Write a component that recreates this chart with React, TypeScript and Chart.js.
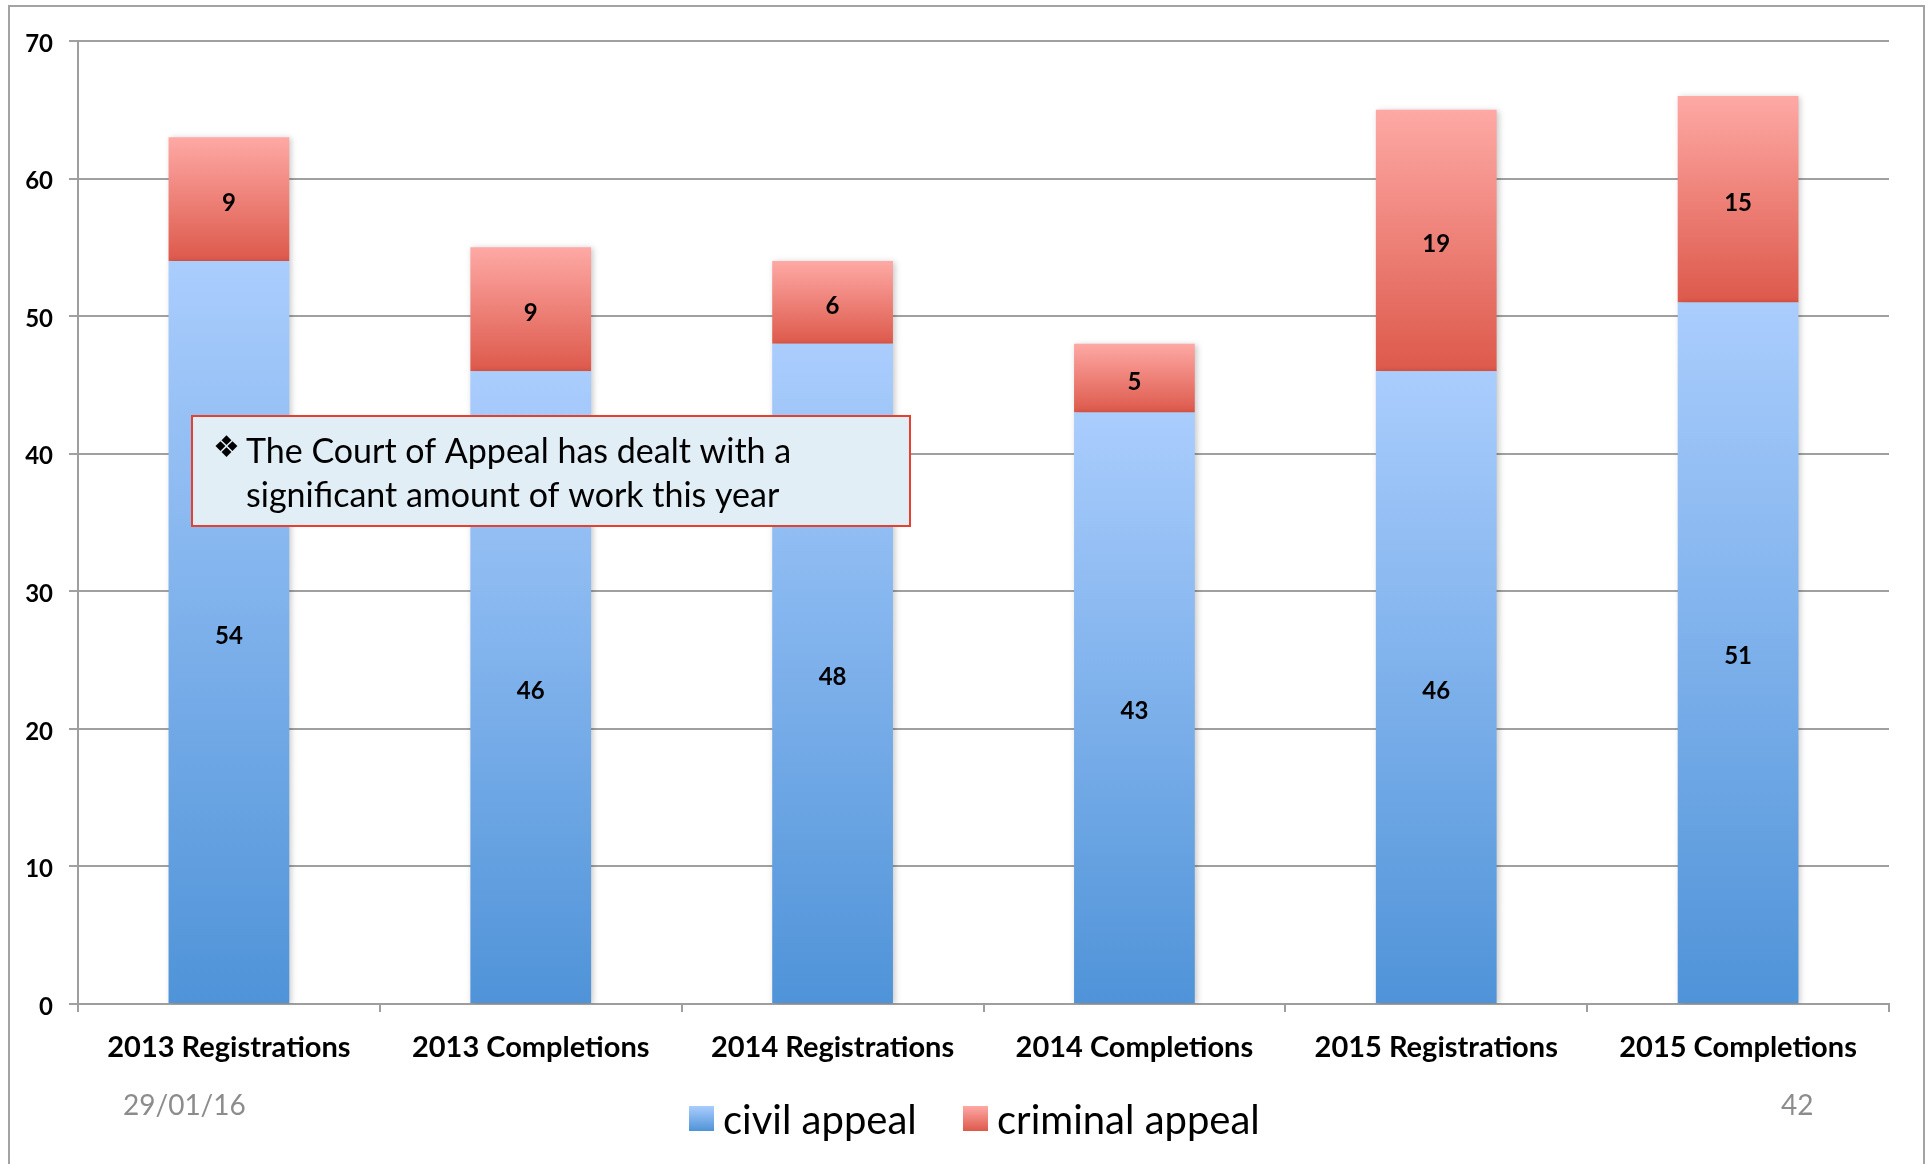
import React, { useEffect, useRef } from "react";
import { Chart, registerables } from "chart.js";

Chart.register(...registerables);

const categories = [
  "2013 Registrations",
  "2013 Completions",
  "2014 Registrations",
  "2014 Completions",
  "2015 Registrations",
  "2015 Completions",
];
const civilAppeal = [54, 46, 48, 43, 46, 51];
const criminalAppeal = [9, 9, 6, 5, 19, 15];
const seriesNames = ["civil appeal", "criminal appeal"];
const yTicksMax = 70;
const yTicksStep = 10;
const noteLines = ["The Court of Appeal has dealt with a", "significant amount of work this year"];
const footerDate = "29/01/16";
const footerPage = "42";

const FONT = "Lato, 'Open Sans', 'DejaVu Sans', sans-serif";
const BLUE_TOP = "#aacdfd";
const BLUE_BOT = "#4f93d8";
const RED_TOP = "#fea9a5";
const RED_BOT = "#dd594b";

function grad(ctx: CanvasRenderingContext2D, y0: number, y1: number, top: string, bot: string) {
  const g = ctx.createLinearGradient(0, y0, 0, y1);
  g.addColorStop(0, top);
  g.addColorStop(1, bot);
  return g;
}

function barColor(dsIndex: number, top: string, bot: string) {
  return (c: any) => {
    const chart = c.chart;
    const y = chart.scales && chart.scales.y;
    if (!y || c.type !== "data") return bot;
    const i = c.dataIndex;
    const base = dsIndex === 0 ? 0 : civilAppeal[i];
    const val = dsIndex === 0 ? civilAppeal[i] : criminalAppeal[i];
    const y0 = y.getPixelForValue(base + val);
    const y1 = y.getPixelForValue(base);
    if (!isFinite(y0) || !isFinite(y1)) return bot;
    return grad(chart.ctx, y0, y1, top, bot);
  };
}

const decorPlugin = {
  id: "decor",
  beforeDraw(chart: any) {
    const ctx = chart.ctx;
    ctx.save();
    ctx.fillStyle = "#ffffff";
    ctx.fillRect(0, 0, chart.width, chart.height);
    ctx.strokeStyle = "#a3a3a3";
    ctx.lineWidth = 2;
    ctx.strokeRect(9, 6, 1915, 1200);
    ctx.restore();
  },
  beforeDatasetsDraw(chart: any) {
    const ctx = chart.ctx;
    ctx.save();
    ctx.shadowColor = "rgba(0,0,0,0.22)";
    ctx.shadowBlur = 6;
    ctx.shadowOffsetX = 2;
    ctx.shadowOffsetY = 1;
  },
  afterDatasetsDraw(chart: any) {
    const ctx = chart.ctx;
    ctx.restore();
    ctx.save();
    ctx.fillStyle = "#000000";
    ctx.font = `bold 24px ${FONT}`;
    ctx.textAlign = "center";
    ctx.textBaseline = "middle";
    chart.data.datasets.forEach((ds: any, di: number) => {
      const meta = chart.getDatasetMeta(di);
      meta.data.forEach((el: any, i: number) => {
        const v = ds.data[i];
        ctx.fillText(String(v), el.x, (el.y + el.base) / 2 + 4);
      });
    });
    ctx.restore();
  },
  afterDraw(chart: any) {
    const ctx = chart.ctx;
    ctx.save();
    // footer
    ctx.fillStyle = "#8c8c8c";
    ctx.font = `28px ${FONT}`;
    ctx.textBaseline = "middle";
    ctx.textAlign = "left";
    ctx.fillText(footerDate, 123, 1106);
    ctx.fillText(footerPage, 1781, 1106);
    // legend
    ctx.font = `40px ${FONT}`;
    ctx.fillStyle = grad(ctx, 1106, 1131, BLUE_TOP, BLUE_BOT);
    ctx.fillRect(689, 1106, 25, 25);
    ctx.fillStyle = grad(ctx, 1106, 1131, RED_TOP, RED_BOT);
    ctx.fillRect(963, 1106, 25, 25);
    ctx.fillStyle = "#000000";
    ctx.fillText(seriesNames[0], 723, 1121);
    ctx.fillText(seriesNames[1], 997, 1121);
    // note box
    ctx.fillStyle = "#e1eef6";
    ctx.fillRect(192, 416, 718, 110);
    ctx.strokeStyle = "#e8402f";
    ctx.lineWidth = 2;
    ctx.strokeRect(192, 416, 718, 110);
    ctx.fillStyle = "#000000";
    ctx.font = `30px 'DejaVu Sans', sans-serif`;
    ctx.fillText("\u2756", 213, 449);
    ctx.font = `34px ${FONT}`;
    ctx.fillText(noteLines[0], 246, 452);
    ctx.fillText(noteLines[1], 246, 496);
    ctx.restore();
  },
};

export default function App() {
  const ref = useRef<HTMLCanvasElement | null>(null);
  useEffect(() => {
    if (!ref.current) return;
    const chart = new Chart(ref.current, {
      type: "bar",
      data: {
        labels: categories,
        datasets: [
          {
            label: seriesNames[0],
            data: civilAppeal,
            backgroundColor: barColor(0, BLUE_TOP, BLUE_BOT),
            borderWidth: 0,
          },
          {
            label: seriesNames[1],
            data: criminalAppeal,
            backgroundColor: barColor(1, RED_TOP, RED_BOT),
            borderWidth: 0,
          },
        ],
      },
      options: {
        responsive: false,
        animation: false,
        layout: { padding: { top: 41, left: 0, right: 41, bottom: 0 } },
        datasets: { bar: { categoryPercentage: 0.8, barPercentage: 0.5 } },
        plugins: {
          legend: { display: false },
          tooltip: { enabled: false },
        },
        scales: {
          x: {
            stacked: true,
            grid: {
              display: true,
              drawOnChartArea: false,
              drawTicks: true,
              tickLength: 8,
              color: "#9e9e9e",
              lineWidth: 2,
              offset: true,
            },
            border: { display: true, color: "#9e9e9e", width: 2 },
            ticks: {
              color: "#000000",
              font: { family: FONT, size: 29, weight: "bold" },
              padding: 18,
              maxRotation: 0,
              autoSkip: false,
            },
            afterFit(scale: any) {
              scale.height = 160;
            },
          },
          y: {
            stacked: true,
            min: 0,
            max: yTicksMax,
            ticks: {
              stepSize: yTicksStep,
              color: "#000000",
              font: { family: FONT, size: 24, weight: "bold" },
              padding: 16,
              labelOffset: 3,
            },
            grid: {
              color: "#a0a0a0",
              lineWidth: 2,
              tickLength: 9,
            },
            border: { display: true, color: "#9e9e9e", width: 2 },
            afterFit(scale: any) {
              scale.width = 78;
            },
          },
        },
      },
      plugins: [decorPlugin],
    });
    return () => chart.destroy();
  }, []);
  return (
    <div style={{ position: "absolute", left: 0, top: 0, width: 1930, height: 1164 }}>
      <canvas ref={ref} width={1930} height={1164} />
    </div>
  );
}
